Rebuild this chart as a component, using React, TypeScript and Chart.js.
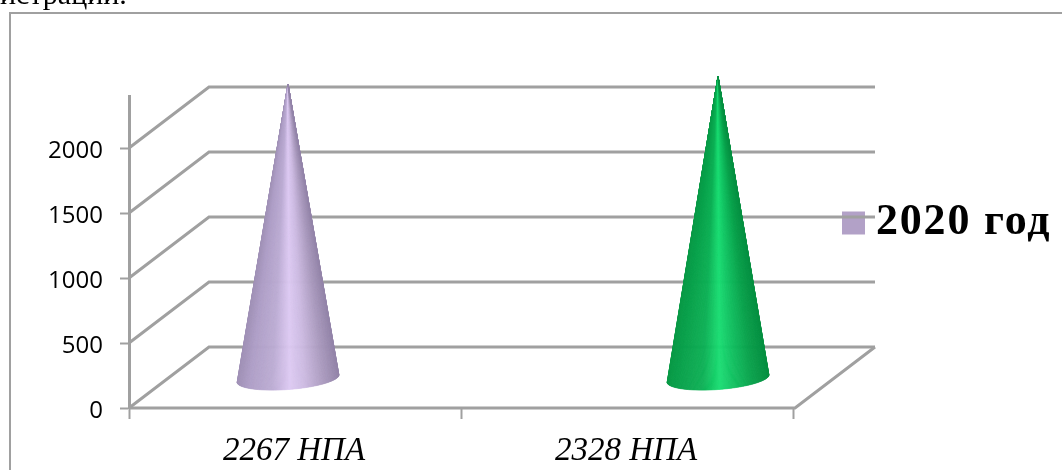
import React, { useEffect, useRef } from "react";
import { Chart, registerables, BarController } from "chart.js";

const categories = ["2267 НПА", "2328 НПА"];
const seriesName = "2020 год";
const values = [2267, 2328];
const yTicks = [0, 500, 1000, 1500, 2000];
const coneColours = ["#B2A1C7", "#10B557"];
const legendColour = "#B2A1C7";
const clippedCaption = "истрации.";

const GRID = "#a0a0a0";
const DEPTH_X = 80;
const DEPTH_Y = 61;
const CONE_SHIFT = [-7, 91];
const CONE_RX = 51;
const CONE_RY = 11;
const CONE_DEPTH = 29;
const CONE_TILT = -0.075;

type Stop = [number, string];
const SHADES: Record<string, Stop[]> = {
  "#B2A1C7": [[0, "#a091b6"], [0.12, "#ae9ec6"], [0.35, "#bcacd3"], [0.52, "#dcc9f2"], [0.66, "#cdbbe2"], [0.85, "#ab9bbf"], [1, "#9485a9"]],
  "#10B557": [[0, "#0a9a47"], [0.12, "#09a14b"], [0.35, "#0cb055"], [0.52, "#19dd72"], [0.66, "#10c060"], [0.85, "#089f4a"], [1, "#079042"]],
};

function hexRgb(h: string) {
  return [1, 3, 5].map((i) => parseInt(h.slice(i, i + 2), 16));
}
function shade(stops: Stop[], t: number) {
  for (let i = 1; i < stops.length; i++) {
    if (t <= stops[i][0]) {
      const [a, ca] = stops[i - 1];
      const [b, cb] = stops[i];
      const k = (t - a) / (b - a);
      const ra = hexRgb(ca);
      const rb = hexRgb(cb);
      return `rgb(${ra.map((v, j) => Math.round(v + (rb[j] - v) * k)).join(",")})`;
    }
  }
  return stops[stops.length - 1][1];
}

class ConeController extends BarController {
  static id = "cone";
  draw() {
    const ctx = this.chart.ctx;
    const meta = this.getMeta();
    const colours = this.getDataset().backgroundColor as string[];
    meta.data.forEach((bar: any, i: number) => {
      const cx = bar.x + CONE_SHIFT[i];
      const cy = bar.base - CONE_DEPTH;
      const tipX = cx;
      const tipY = bar.y - CONE_DEPTH;
      const stops = SHADES[colours[i]];
      const cos = Math.cos(CONE_TILT);
      const sin = Math.sin(CONE_TILT);
      const pt = (a: number) => {
        const u = CONE_RX * Math.cos(a);
        const v = CONE_RY * Math.sin(a);
        return [cx + u * cos - v * sin, cy + u * sin + v * cos];
      };
      const N = 160;
      ctx.save();
      for (let k = 0; k < N; k++) {
        const a0 = Math.PI - (k / N) * Math.PI;
        const a1 = Math.PI - ((k + 1) / N) * Math.PI;
        const p0 = pt(a0);
        const p1 = pt(a1);
        const t = (p0[0] + p1[0]) / 2;
        const col = shade(stops, (t - (cx - CONE_RX)) / (2 * CONE_RX));
        ctx.beginPath();
        ctx.moveTo(tipX, tipY);
        ctx.lineTo(p0[0], p0[1]);
        ctx.lineTo(p1[0], p1[1]);
        ctx.closePath();
        ctx.fillStyle = col;
        ctx.strokeStyle = col;
        ctx.lineWidth = 0.6;
        ctx.fill();
        ctx.stroke();
      }
      ctx.restore();
    });
  }
}

const wallPlugin = {
  id: "walls",
  afterLayout(chart: any) {
    const lg = chart.legend;
    lg.left = 842;
    lg.right = 1062;
    lg.top = 190;
    lg.bottom = 260;
    lg.width = lg.right - lg.left;
    lg.height = lg.bottom - lg.top;
    if (!lg.__spaced) {
      lg.__spaced = true;
      const original = lg.draw;
      lg.draw = function (area: any) {
        const c = chart.ctx;
        c.letterSpacing = "1.8px";
        original.call(lg, area);
        c.letterSpacing = "0px";
      };
    }
  },
  beforeDatasetsDraw(chart: any) {
    const { ctx, chartArea, scales } = chart;
    const y = scales.y;
    ctx.save();
    ctx.strokeStyle = GRID;
    ctx.lineWidth = 3;
    y.ticks.forEach((t: any) => {
      const py = y.getPixelForValue(t.value);
      ctx.beginPath();
      ctx.moveTo(chartArea.left, py);
      ctx.lineTo(chartArea.left + DEPTH_X, py - DEPTH_Y);
      ctx.lineTo(chartArea.right + DEPTH_X + 2, py - DEPTH_Y);
      ctx.stroke();
    });
    const base = y.getPixelForValue(0);
    ctx.beginPath();
    ctx.moveTo(chartArea.left, base);
    ctx.lineTo(chartArea.right + 2, base);
    ctx.lineTo(chartArea.right + 2 + DEPTH_X, base - DEPTH_Y);
    ctx.stroke();
    ctx.restore();
  },
  beforeDraw(chart: any) {
    const ctx = chart.ctx;
    ctx.save();
    ctx.strokeStyle = GRID;
    ctx.lineWidth = 2;
    ctx.beginPath();
    ctx.moveTo(10, 470);
    ctx.lineTo(10, 13);
    ctx.lineTo(1062, 13);
    ctx.stroke();
    ctx.restore();
  },
};

export default function App() {
  const ref = useRef<HTMLCanvasElement | null>(null);
  useEffect(() => {
    document.body.style.margin = "0";
    document.body.style.overflow = "hidden";
    Chart.register(...registerables, ConeController as any);
    const chart = new Chart(ref.current as HTMLCanvasElement, {
      type: "cone" as any,
      data: {
        labels: categories,
        datasets: [{ label: seriesName, data: values, backgroundColor: coneColours, clip: false }],
      },
      plugins: [wallPlugin],
      options: {
        responsive: false,
        animation: false,
        layout: { padding: { top: 96, right: 269, bottom: 0, left: 0 } },
        plugins: {
          tooltip: { enabled: false },
          legend: {
            position: "chartArea",
            align: "start",
            labels: {
              boxWidth: 1,
              boxHeight: 1,
              padding: 11,
              color: "#000",
              font: { family: "'Liberation Serif'", weight: "bold", size: 44 },
              generateLabels: () => [
                { text: seriesName, fillStyle: legendColour, strokeStyle: legendColour, lineWidth: 22, datasetIndex: 0 },
              ],
            },
          },
        },
        scales: {
          x: {
            type: "category",
            offset: true,
            afterFit: (s: any) => {
              s.height = 62;
            },
            border: { display: false },
            grid: { offset: true, drawOnChartArea: false, drawTicks: true, tickLength: 11, tickColor: GRID, tickWidth: 2 },
            ticks: {
              color: "#000",
              padding: 13,
              labelOffset: -1,
              maxRotation: 0,
              autoSkip: false,
              font: { family: "'Liberation Serif'", style: "italic", size: 33 },
            },
          },
          y: {
            type: "linear",
            min: 0,
            max: 2400,
            afterFit: (s: any) => {
              s.width = 129;
            },
            afterBuildTicks: (s: any) => {
              s.ticks = yTicks.map((value) => ({ value }));
            },
            border: { display: true, color: GRID, width: 3 },
            grid: { drawOnChartArea: false, drawTicks: true, tickLength: 9, tickColor: GRID, tickWidth: 2 },
            ticks: {
              color: "#000",
              padding: 17,
              labelOffset: 3,
              callback: (v: any) => String(v),
              font: { family: "'Open Sans'", size: 24 },
            },
          },
        },
      },
    } as any);
    return () => chart.destroy();
  }, []);
  return (
    <div style={{ position: "relative", width: 1062, height: 470, overflow: "hidden" }}>
      <canvas ref={ref} width={1062} height={470} style={{ display: "block" }} />
      <div
        style={{
          position: "absolute",
          left: 0,
          top: -25,
          fontFamily: "'Liberation Serif'",
          fontSize: 30,
          color: "#000",
          whiteSpace: "nowrap",
          lineHeight: "38px",
        }}
      >
        {clippedCaption}
      </div>
    </div>
  );
}
